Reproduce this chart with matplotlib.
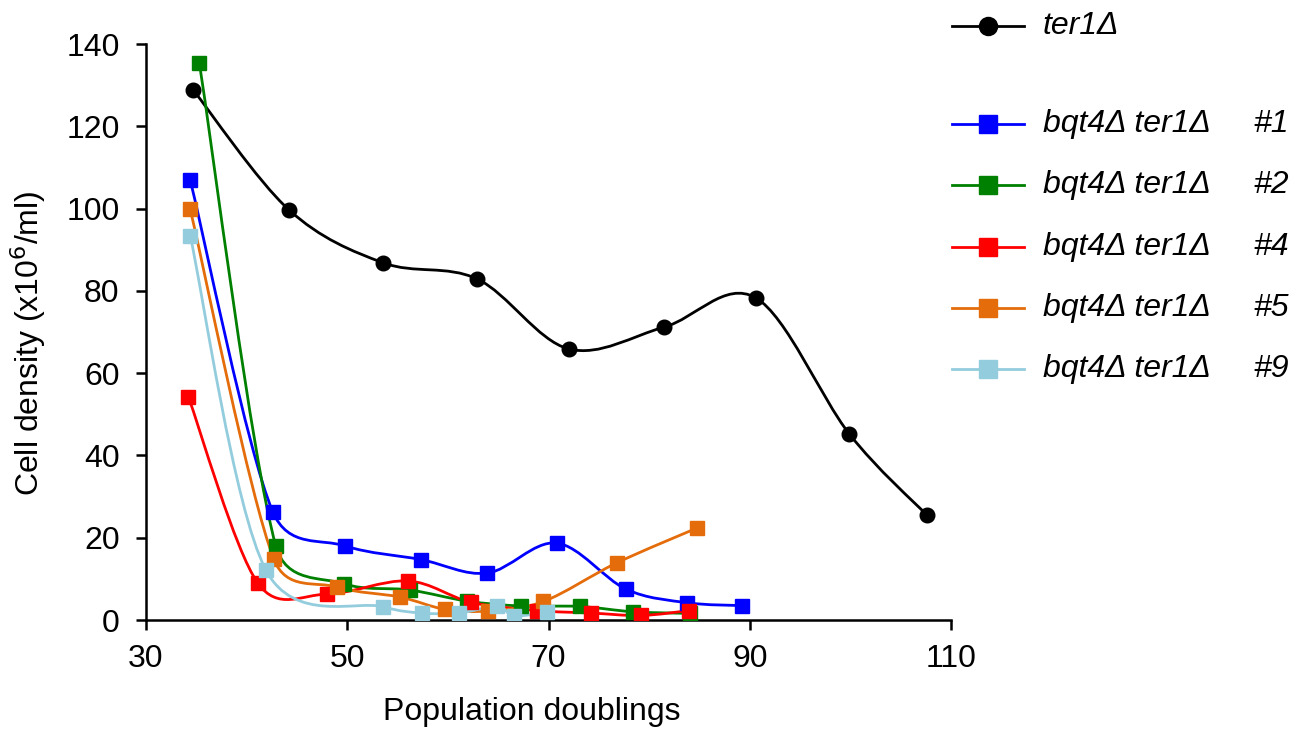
import numpy as np
import matplotlib
matplotlib.use("Agg")
import matplotlib.pyplot as plt
from matplotlib.path import Path
from matplotlib.patches import PathPatch
from matplotlib.lines import Line2D

plt.rcParams['font.family'] = ['Liberation Sans', 'DejaVu Sans']

# ---- data ----
ter1_x = [34.7, 44.2, 53.6, 62.9, 72.0, 81.5, 90.6, 99.9, 107.6]
ter1_y = [128.8, 99.7, 86.8, 82.9, 65.9, 71.2, 78.3, 45.2, 25.5]

c1_x = [34.4, 42.6, 49.8, 57.3, 63.9, 70.8, 77.7, 83.8, 89.2]
c1_y = [106.9, 26.3, 18.0, 14.7, 11.4, 18.7, 7.5, 4.2, 3.5]

c2_x = [35.3, 42.9, 49.7, 56.2, 61.9, 67.3, 73.1, 78.4, 84.1]
c2_y = [135.4, 18.0, 8.8, 7.3, 4.6, 3.4, 3.3, 2.0, 1.6]

c4_x = [34.2, 41.1, 48.0, 56.0, 62.3, 68.9, 74.2, 79.2, 84.0]
c4_y = [54.3, 9.0, 6.3, 9.5, 4.3, 2.3, 1.7, 1.1, 2.3]

c5_x = [34.4, 42.7, 49.0, 55.2, 59.7, 64.0, 69.5, 76.8, 84.8]
c5_y = [99.8, 14.8, 8.0, 5.6, 2.6, 2.2, 4.5, 13.9, 22.4]

c9_x = [34.4, 41.9, 53.6, 57.4, 61.1, 64.9, 66.6, 69.9]
c9_y = [93.3, 12.2, 3.2, 1.7, 1.7, 3.3, 1.0, 2.0]

series = [
    ("ter1Δ", "", ter1_x, ter1_y, "black", "o"),
    ("bqt4Δ ter1Δ", "#1", c1_x, c1_y, "#0000FF", "s"),
    ("bqt4Δ ter1Δ", "#2", c2_x, c2_y, "#008000", "s"),
    ("bqt4Δ ter1Δ", "#4", c4_x, c4_y, "#FF0000", "s"),
    ("bqt4Δ ter1Δ", "#5", c5_x, c5_y, "#E46C0A", "s"),
    ("bqt4Δ ter1Δ", "#9", c9_x, c9_y, "#93CDDD", "s"),
]

xticks = [30, 50, 70, 90, 110]
yticks = [0, 20, 40, 60, 80, 100, 120, 140]

W, H, DPI = 1313, 733, 100
AX_L, AX_R, AX_T, AX_B = 146, 951, 44, 620
XMIN, XMAX, YMIN, YMAX = 30, 110, 0, 140
SX = (AX_R - AX_L) / (XMAX - XMIN)
SY = (AX_B - AX_T) / (YMAX - YMIN)


def smooth_path(x, y):
    """Excel-like smoothed line: cubic Bezier through the points, tangent
    length (p[i+1]-p[i-1])/6 limited to half the adjacent segment (screen space)."""
    p = np.column_stack([np.asarray(x) * SX, np.asarray(y) * SY]).astype(float)
    n = len(p)
    verts = [p[0]]
    codes = [Path.MOVETO]
    for i in range(n - 1):
        p0 = p[i - 1] if i > 0 else p[i]
        p1 = p[i]
        p2 = p[i + 1]
        p3 = p[i + 2] if i + 2 < n else p[i + 1]
        d12 = np.linalg.norm(p2 - p1)
        t1 = (p2 - p0) / 6.0
        t2 = (p3 - p1) / 6.0
        for t in (t1, t2):
            L = np.linalg.norm(t)
            if L > d12 / 2 and L > 0:
                t *= (d12 / 2) / L
        c1 = p1 + t1
        c2 = p2 - t2
        verts += [c1, c2, p2]
        codes += [Path.CURVE4] * 3
    v = np.array(verts)
    v[:, 0] /= SX
    v[:, 1] /= SY
    return Path(v, codes)


fig = plt.figure(figsize=(W / DPI, H / DPI), dpi=DPI)
ax = fig.add_axes([AX_L / W, 1 - AX_B / H, (AX_R - AX_L) / W, (AX_B - AX_T) / H])

for name, num, xs, ys, col, mk in series:
    ax.add_patch(PathPatch(smooth_path(xs, ys), facecolor="none", edgecolor=col,
                           lw=2.0, zorder=2))
    ax.plot(xs, ys, ls="none", marker=mk, ms=10.5,
            color=col, mec=col, zorder=3)

ax.set_xlim(XMIN, XMAX)
ax.set_ylim(YMIN, YMAX)
ax.set_xticks(xticks)
ax.set_yticks(yticks)
ax.tick_params(direction="out", length=7, width=1.8, labelsize=23)
ax.tick_params(axis="y", pad=12)
ax.tick_params(axis="x", pad=10)
for s in ["top", "right"]:
    ax.spines[s].set_visible(False)
for s in ["left", "bottom"]:
    ax.spines[s].set_linewidth(1.8)
ax.set_xlabel("Population doublings", fontsize=23)
ax.set_ylabel("Cell density (x10$^{6}$/ml)", fontsize=23)
ax.xaxis.set_label_coords((532 - AX_L) / (AX_R - AX_L), -(712 - AX_B) / (AX_B - AX_T))
ax.yaxis.set_label_coords(-(AX_L - 28) / (AX_R - AX_L), (AX_B - 343) / (AX_B - AX_T))
ax.xaxis.label.set_va("center")
ax.yaxis.label.set_va("center")

# ---- manual legend ----
lax = fig.add_axes([0, 0, 1, 1], facecolor="none")
lax.set_xlim(0, W)
lax.set_ylim(H, 0)
lax.axis("off")
rows = [26, 124, 185, 247, 308, 369]
for (name, num, xs, ys, col, mk), yy in zip(series, rows):
    lax.add_line(Line2D([952, 1024], [yy, yy], color=col, lw=2.0))
    lax.plot([988], [yy], marker=mk, ms=13, color=col, mec=col, ls="none")
    lax.text(1043, yy, name, fontsize=23, style="italic", va="center", ha="left")
    if num:
        lax.text(1253, yy, num, fontsize=23, style="italic", va="center", ha="left")

fig.savefig("out.png", dpi=DPI)
